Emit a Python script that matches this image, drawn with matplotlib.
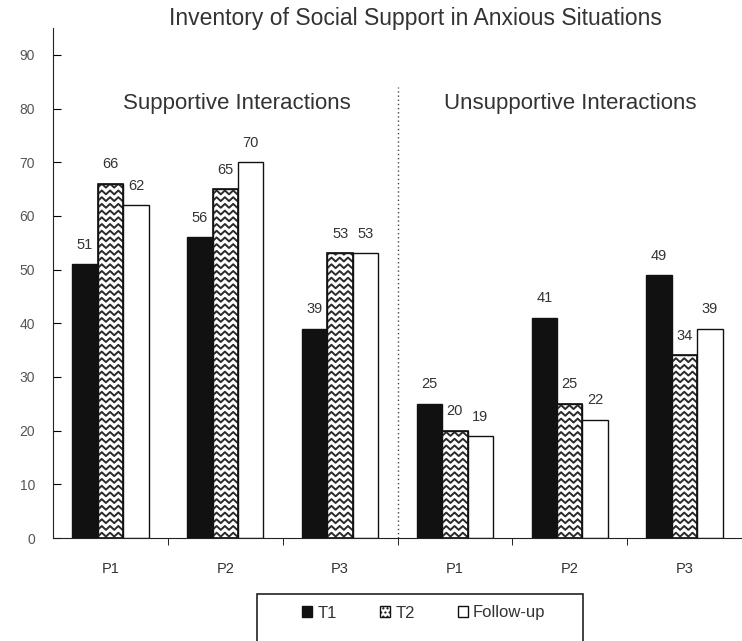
import numpy as np
import matplotlib
matplotlib.use("Agg")
import matplotlib.pyplot as plt
from matplotlib.patches import Patch, Rectangle

plt.rcParams['font.family'] = ['Liberation Sans', 'DejaVu Sans']

groups = ['P1', 'P2', 'P3', 'P1', 'P2', 'P3']
t1 = [51, 56, 39, 25, 41, 49]
t2 = [66, 65, 53, 20, 25, 34]
follow_up = [62, 70, 53, 19, 22, 39]
series_names = ['T1', 'T2', 'Follow-up']
yticks = list(range(0, 100, 10))
panel_titles = ['Supportive Interactions', 'Unsupportive Interactions']
title = 'Inventory of Social Support in Anxious Situations'

TXT = '#333333'


def zigzag(ax, bar, period=0.072, row=1.25, amp=0.36):
    # wavy fill for the T2 bars, clipped to the bar outline
    x0, w, h = bar.get_x(), bar.get_width(), bar.get_height()
    xs = np.arange(x0 - period, x0 + w + period, period / 2)
    n = np.arange(len(xs))
    for base in np.arange(row / 2, h + row, row):
        ys = base + np.where(n % 2 == 0, -amp, amp)
        ln, = ax.plot(xs, ys, color='#2a2a2a', lw=1.4, zorder=3)
        ln.set_clip_path(bar)


fig = plt.figure(figsize=(7.42, 6.41), dpi=100)
ax = fig.add_axes([53 / 742, 103 / 641, 689 / 742, 510 / 641])

x = np.arange(len(groups))
w = 0.222
b1 = ax.bar(x - w, t1, w, color='#111111', edgecolor='#111111', lw=1, zorder=2)
b2 = ax.bar(x, t2, w, color='white', edgecolor='#111111', lw=1, zorder=2)
b3 = ax.bar(x + w, follow_up, w, color='white', edgecolor='#111111', lw=1, zorder=2)
for bar in b2:
    zigzag(ax, bar)
ax.bar(x, t2, w, fill=False, edgecolor='#111111', lw=1.2, zorder=4)

for bars, vals in [(b1, t1), (b2, t2), (b3, follow_up)]:
    for bar, v in zip(bars, vals):
        ax.annotate(str(v), (bar.get_x() + bar.get_width() / 2, v),
                    xytext=(0, 14), textcoords='offset points',
                    ha='center', va='center', fontsize=10.5, color=TXT)

# separator between the two panels
ax.plot([2.5, 2.5], [0, 84], ls=(0, (1, 2)), color='#444444', lw=1, zorder=1)

ax.text(1.1, 81, panel_titles[0], ha='center', va='center', fontsize=16, color=TXT)
ax.text(4.0, 81, panel_titles[1], ha='center', va='center', fontsize=16, color=TXT)
fig.text(415 / 742, 1 - 19 / 641, title, ha='center', va='center', fontsize=16.5, color=TXT)

ax.set_xlim(-0.5, 5.5)
ax.set_ylim(0, 95)
ax.set_yticks(yticks)
ax.tick_params(axis='y', direction='in', length=6, pad=13, labelsize=10, labelcolor='#555555')
ax.set_xticks(x)
ax.set_xticklabels(groups)
ax.set_xticks(np.arange(0.5, 5, 1), minor=True)
ax.tick_params(axis='x', which='major', length=0, pad=17.5, labelsize=10.5, labelcolor=TXT)
ax.tick_params(axis='x', which='minor', direction='out', length=5)
for s in ['top', 'right']:
    ax.spines[s].set_visible(False)
for s in ['left', 'bottom']:
    ax.spines[s].set_color('#222222')

# legend in an open-bottomed box under the axes
fig.add_artist(Rectangle((257 / 742, -0.05), 326 / 742, 0.05 + 1 - 594 / 641,
                         transform=fig.transFigure, fill=False,
                         edgecolor='#222222', lw=1.2))
handles = [Patch(facecolor='#111111', edgecolor='#111111'),
           Patch(facecolor='white', edgecolor='#111111', hatch='....'),
           Patch(facecolor='white', edgecolor='#111111')]
fig.legend(handles, series_names, ncol=3, frameon=False, loc='center',
           bbox_to_anchor=(424 / 742, 1 - 613 / 641), fontsize=12,
           handlelength=0.6, handleheight=0.6, handletextpad=0.3,
           columnspacing=2.6, labelcolor=TXT)

fig.savefig('out.png', dpi=100)
